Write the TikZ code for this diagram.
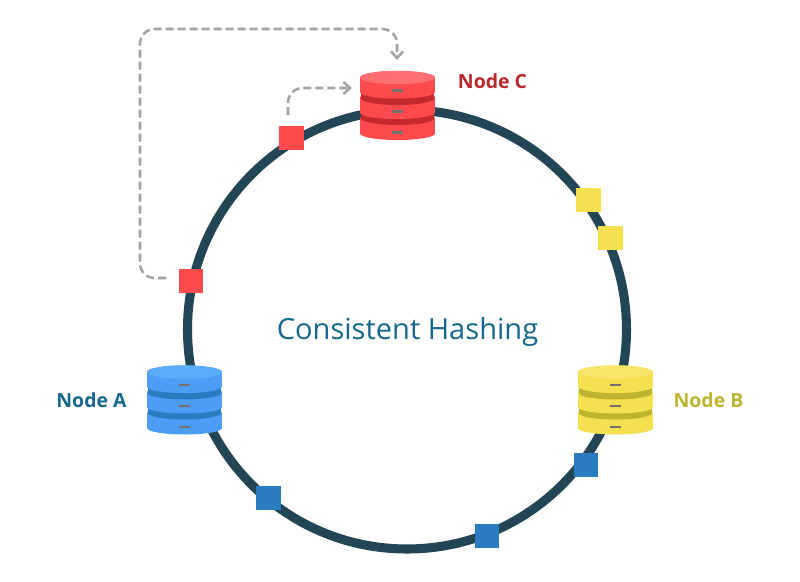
\documentclass[tikz,border=0pt]{standalone}
\usepackage{fontspec}
\setmainfont{Open Sans}
\usetikzlibrary{arrows.meta}
\definecolor{ringc}{HTML}{234656}
\definecolor{redL}{HTML}{FF6F72}\definecolor{redM}{HTML}{FF4A4D}\definecolor{redD}{HTML}{C42A2D}
\definecolor{bluL}{HTML}{5BADFA}\definecolor{bluM}{HTML}{4C9DF5}\definecolor{bluD}{HTML}{2B7BC1}
\definecolor{yelL}{HTML}{F8E56A}\definecolor{yelM}{HTML}{F5E050}\definecolor{yelD}{HTML}{BDB52F}
\definecolor{sqblue}{HTML}{2B7BC1}
\definecolor{dashc}{HTML}{A3A3A3}
\definecolor{markc}{HTML}{77706F}
\definecolor{titlec}{HTML}{16688F}
\tikzset{
  x=0.75pt,y=-0.75pt,
  ring/.style={draw=ringc,line width=6.8pt},
  token/.style={minimum size=18.7pt,inner sep=0pt,outer sep=0pt},
  link/.style={draw=dashc,line width=1.9pt,dash pattern=on 6pt off 3pt,rounded corners=11pt,-{Straight Barb[length=5pt,width=9pt,line width=1.9pt]}},
  nodelabel/.style={font=\fontsize{14.6pt}{17pt}\selectfont\bfseries,inner sep=0pt},
  title/.style={font=\fontsize{21.8pt}{24pt}\selectfont,text=titlec,inner sep=0pt},
  dbbox/.style={minimum width=56pt,minimum height=52pt,inner sep=0pt}
}
% x, top y of side, bottom y of side, half width, colour
\newcommand{\dbdisc}[5]{%
  \fill[#5] (#1-#4,#2) rectangle (#1+#4,#3);
  \fill[#5] (#1,#3) ellipse[x radius=#4,y radius=6.5];
  \fill[#5] (#1,#2) ellipse[x radius=#4,y radius=6.5];
}
% centre x, top-ellipse centre y, light, main, dark
\newcommand{\dbstack}[5]{%
  \dbdisc{#1}{#2+41}{#2+56}{37.5}{#4}
  \dbdisc{#1}{#2+36}{#2+41}{36.5}{#5}
  \dbdisc{#1}{#2+20}{#2+35}{37.5}{#4}
  \dbdisc{#1}{#2+15}{#2+21}{36.5}{#5}
  \dbdisc{#1}{#2}{#2+14.5}{37.5}{#4}
  \fill[#3] (#1,#2) ellipse[x radius=37.5,y radius=6.7];
  \foreach \dy in {13,34,55}{
    \fill[markc] (#1-5.5,#2+\dy-1.3) rectangle (#1+5.5,#2+\dy+1.3);
  }
}
\begin{document}
\begin{tikzpicture}
\useasboundingbox (0,0) rectangle (800,582);
\fill[white] (0,0) rectangle (800,582);
\draw[ring] (407,329.5) circle[radius=219.5];
\dbstack{397.5}{77.5}{redL}{redM}{redD}
\dbstack{184.5}{372}{bluL}{bluM}{bluD}
\dbstack{615.5}{372}{yelL}{yelM}{yelD}
\node[dbbox] (dbC) at (397.5,105) {};
\node[dbbox] (dbA) at (184.5,400) {};
\node[dbbox] (dbB) at (615.5,400) {};
\node[token,fill=redM] (r1) at (291.5,138) {};
\node[token,fill=redM] (r2) at (191,281) {};
\node[token,fill=yelM] (y1) at (588.5,200) {};
\node[token,fill=yelM] (y2) at (610.5,238) {};
\node[token,fill=sqblue] (b1) at (586,465) {};
\node[token,fill=sqblue] (b2) at (487,536) {};
\node[token,fill=sqblue] (b3) at (268.5,498) {};
\coordinate (s1) at (288,115);
\coordinate (e1) at (352,88);
\coordinate (s2) at (166,278);
\coordinate (e2) at (397,60);
\draw[link] (s1) -- (288,88) -- (e1);
\draw[link] (s2) -- (140,278) -- (140,29) -- (397,29) -- (e2);
\node[title] (t) at (407.5,332) {Consistent Hashing};
\node[nodelabel,text=redD!95!black] (lc) at (492.5,81.5) {Node C};
\node[nodelabel,text=titlec] (la) at (91.5,400) {Node A};
\node[nodelabel,text=yelD] (lb) at (708.5,400) {Node B};
\end{tikzpicture}
\end{document}
